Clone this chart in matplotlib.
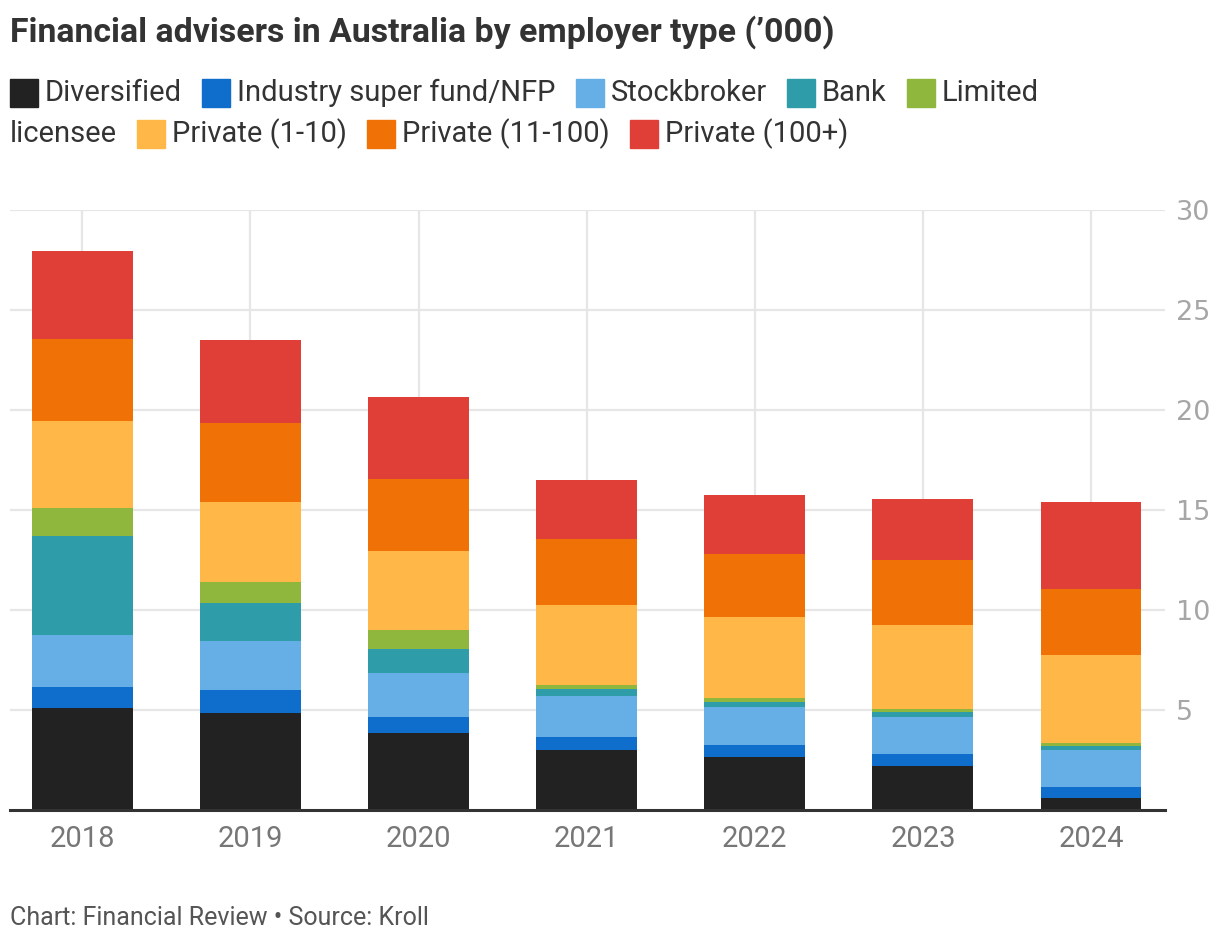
import matplotlib
matplotlib.use("Agg")
import matplotlib.pyplot as plt
from matplotlib.patches import Rectangle
import numpy as np

years = ["2018", "2019", "2020", "2021", "2022", "2023", "2024"]
series_names = ["Diversified", "Industry super fund/NFP", "Stockbroker", "Bank",
                "Limited licensee", "Private (1-10)", "Private (11-100)", "Private (100+)"]
diversified = [5.09, 4.85, 3.85, 3.02, 2.67, 2.22, 0.62]
industry = [1.06, 1.15, 0.80, 0.65, 0.60, 0.60, 0.55]
stockbroker = [2.61, 2.46, 2.20, 2.05, 1.90, 1.85, 1.85]
bank = [4.94, 1.89, 1.21, 0.35, 0.25, 0.25, 0.20]
limited = [1.41, 1.06, 0.94, 0.20, 0.20, 0.15, 0.15]
private_small = [4.32, 4.00, 3.96, 4.00, 4.05, 4.20, 4.40]
private_mid = [4.14, 3.96, 3.61, 3.30, 3.15, 3.25, 3.30]
private_large = [4.36, 4.15, 4.10, 2.95, 2.95, 3.05, 4.35]
yticks = [5, 10, 15, 20, 25, 30]

colors = ["#222222", "#0f6dcb", "#66aee6", "#2f9caa", "#8fb73e",
          "#ffb847", "#f07206", "#e03f38"]
series = [diversified, industry, stockbroker, bank, limited,
          private_small, private_mid, private_large]

W, H = 1220, 948
fig = plt.figure(figsize=(W / 100, H / 100), dpi=100)
FONT = "Roboto"

def fx(px):
    return px / W

def fy(py):
    return 1 - py / H

ax = fig.add_axes([fx(10), fy(810), fx(1165) - fx(10), fy(210) - fy(810)])
x = np.arange(len(years))
bottom = np.zeros(len(years))
for vals, c in zip(series, colors):
    ax.bar(x, vals, bottom=bottom, width=0.6, color=c, zorder=3, linewidth=0)
    bottom += np.array(vals)

ax.set_xlim(-0.43, 6.44)
ax.set_ylim(0, 30)
ax.set_yticks(yticks)
ax.set_xticks(x)
ax.set_xticklabels(years)
ax.yaxis.tick_right()
for s in ["top", "left", "right"]:
    ax.spines[s].set_visible(False)
ax.spines["bottom"].set_color("#333333")
ax.spines["bottom"].set_linewidth(2.2)
ax.spines["bottom"].set_zorder(5)
ax.grid(True, color="#e6e6e6", linewidth=1.6, zorder=0)
ax.tick_params(axis="both", length=0)
ax.tick_params(axis="y", pad=8, labelsize=19.5, labelcolor="#a6a6a6")
ax.tick_params(axis="x", pad=11, labelsize=21, labelcolor="#777777")
for lab in ax.get_xticklabels():
    lab.set_fontfamily(FONT)
for lab in ax.get_yticklabels():
    lab.set_fontfamily("DejaVu Sans")

# Title
fig.text(fx(10), fy(32), "Financial advisers in Australia by employer type (\u2019000)",
         fontsize=24.4, fontweight="bold", color="#333333", family=FONT, va="center", ha="left")

# Legend (manual flow layout)
renderer = fig.canvas.get_renderer()
leg_fs = 21
sq = 28
gap_sq_text = 7
gap_items = 20
rows_y = [93, 134]
cur_x, row = 10, 0
for name, c in zip(series_names, colors):
    fig.patches.append(Rectangle((fx(cur_x), fy(rows_y[row] + sq / 2)), fx(sq), sq / H,
                                 transform=fig.transFigure, color=c, figure=fig))
    cur_x += sq + gap_sq_text
    words = name.split(" ") if name == "Limited licensee" else [name]
    for wi, w in enumerate(words):
        if wi > 0:
            row += 1
            cur_x = 10
        t = fig.text(fx(cur_x), fy(rows_y[row]), w, fontsize=leg_fs, color="#333333",
                     family=FONT, va="center", ha="left")
        bb = t.get_window_extent(renderer)
        cur_x += bb.width
    cur_x += gap_items

# Source
fig.text(fx(10), fy(918), "Chart: Financial Review \u2022 Source: Kroll", fontsize=18,
         color="#555555", family=FONT, va="center", ha="left")

fig.savefig("out.png", dpi=100, facecolor="white")
